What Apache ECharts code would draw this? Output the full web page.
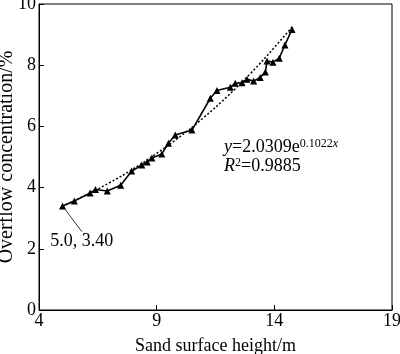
<!DOCTYPE html>
<html>
<head>
<meta charset="utf-8">
<title>overflow</title>
<script src="https://cdn.jsdelivr.net/npm/echarts@6/dist/echarts.min.js"></script>
<style>
  body { margin: 0; background: #fff; }
  #main { width: 400px; height: 354px; }
</style>
</head>
<body>
<div id="main"></div>
<script type="text/javascript">
	// measured points (sand surface height m, overflow concentration %)
	var heights = [5.0, 5.5, 6.17, 6.4, 6.9, 7.47, 7.94, 8.37, 8.6, 8.8, 9.22, 9.5, 9.79, 10.5,
		11.28, 11.56, 12.13, 12.34, 12.63, 12.84, 13.12, 13.4, 13.62, 13.69, 13.94, 14.21, 14.45, 14.75];
	var concs = [3.40, 3.56, 3.82, 3.94, 3.89, 4.08, 4.54, 4.74, 4.84, 4.97, 5.10, 5.45, 5.72, 5.88,
		6.92, 7.17, 7.28, 7.41, 7.43, 7.54, 7.48, 7.60, 7.78, 8.14, 8.10, 8.23, 8.66, 9.17];
	// dotted trend line
	var trendX = [5, 6, 7, 8, 9, 10, 11, 12, 13, 14, 14.8];
	var trendY = [3.39, 3.76, 4.16, 4.61, 5.12, 5.67, 6.29, 6.98, 7.74, 8.58, 9.29];

	var font = 'Liberation Serif';

	function pairs(xs, ys) {
		var out = [];
		for (var i = 0; i < xs.length; i++) out.push([xs[i], ys[i]]);
		return out;
	}

	var myChart = echarts.init(document.getElementById('main'));
	var option = {
		animation: false,
		backgroundColor: '#fff',
		grid: {
			left: 39, right: 8, top: 4, bottom: 44, containLabel: false, outerBoundsMode: 'none',
			show: true, borderColor: '#000', borderWidth: 1
		},
		xAxis: {
			type: 'value', min: 4, max: 19, interval: 5,
			name: 'Sand surface height/m', nameLocation: 'middle', nameGap: 27, nameMoveOverlap: false,
			nameTextStyle: { fontFamily: font, fontSize: 18, color: '#000' },
			axisLine: { lineStyle: { color: '#000', width: 1 } },
			axisTick: { inside: true, length: 5, lineStyle: { color: '#000' } },
			axisLabel: { fontFamily: font, fontSize: 18, color: '#000', margin: 2 },
			splitLine: { show: false }
		},
		yAxis: {
			type: 'value', min: 0, max: 10, interval: 2,
			name: 'Overflow concentration/%', nameLocation: 'middle', nameGap: 22, nameMoveOverlap: false,
			nameTextStyle: { fontFamily: font, fontSize: 20, color: '#000' },
			axisLine: { lineStyle: { color: '#000', width: 1 } },
			axisTick: { inside: true, length: 5, lineStyle: { color: '#000' } },
			axisLabel: { fontFamily: font, fontSize: 18, color: '#000', margin: 3 },
			splitLine: { show: false }
		},
		series: [
			{
				type: 'line', smooth: true, showSymbol: false,
				data: pairs(trendX, trendY),
				lineStyle: { color: '#000', width: 1.5, type: [2, 2] },
				z: 1
			},
			{
				type: 'line',
				data: pairs(heights, concs),
				symbol: 'triangle', symbolSize: 7,
				itemStyle: { color: '#000' },
				lineStyle: { color: '#000', width: 1.6 },
				z: 2,
				markLine: {
					silent: true, symbol: 'none',
					lineStyle: { color: '#000', width: 0.8, type: 'solid' },
					label: { show: false },
					data: [[{ coord: [5.0, 3.40] }, { coord: [5.82, 2.56] }]]
				},
				markPoint: {
					symbol: 'circle', symbolSize: 0,
					label: { show: true, formatter: '5.0, 3.40', fontFamily: font, fontSize: 18, color: '#000' },
					data: [{ coord: [5.82, 2.25] }]
				}
			}
		],
		graphic: [
			{
				type: 'text', left: 224, top: 138,
				style: {
					text: '{i|y}=2.0309e{s|0.1022}{si|x}\n{i|R}{s|2}=0.9885',
					fontFamily: font, fontSize: 18, fill: '#000', lineHeight: 19,
					rich: {
						i: { fontFamily: font, fontSize: 18, fontStyle: 'italic', lineHeight: 19 },
						s: { fontFamily: font, fontSize: 12, verticalAlign: 'top', lineHeight: 19, padding: [0, 0, 7, 0] },
						si: { fontFamily: font, fontSize: 12, fontStyle: 'italic', verticalAlign: 'top', lineHeight: 19, padding: [0, 0, 7, 0] }
					}
				}
			}
		]
	};
	myChart.setOption(option);
</script>
</body>
</html>
